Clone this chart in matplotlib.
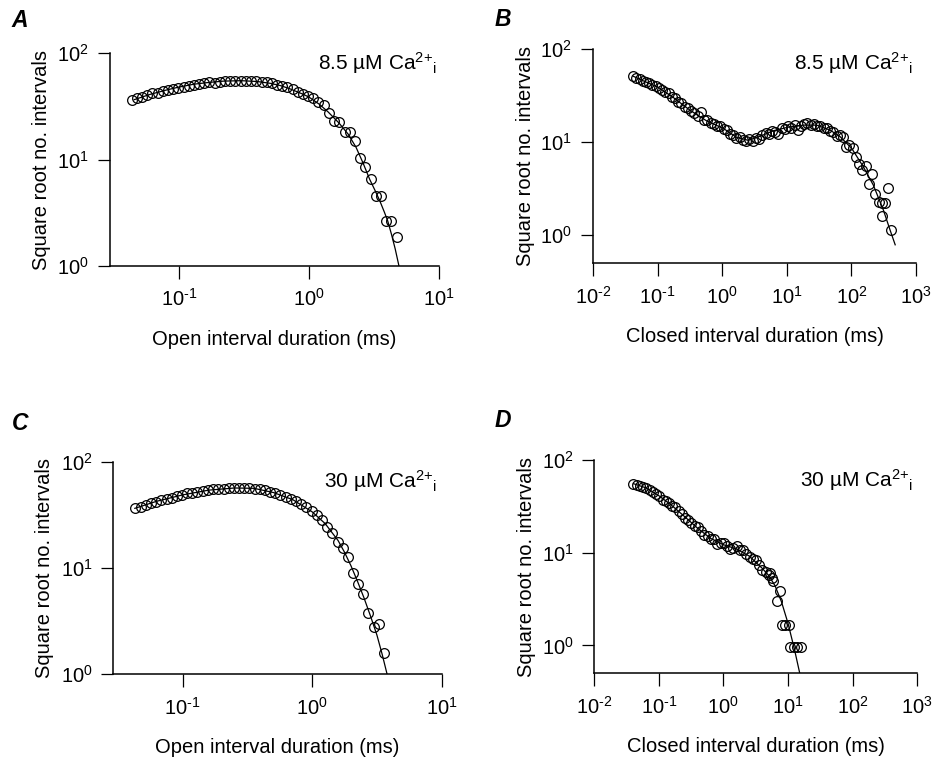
import matplotlib
matplotlib.use("Agg")
import matplotlib.pyplot as plt
from matplotlib.ticker import NullLocator, FuncFormatter
import numpy as np

plt.rcParams["font.family"] = ["Liberation Sans", "DejaVu Sans"]
plt.rcParams["mathtext.fontset"] = "custom"
plt.rcParams["mathtext.rm"] = "Liberation Sans"
plt.rcParams["mathtext.it"] = "Liberation Sans:italic"
plt.rcParams["mathtext.bf"] = "Liberation Sans:bold"
plt.rcParams["mathtext.default"] = "regular"
plt.rcParams["axes.unicode_minus"] = False

# A: open intervals, 8.5 uM Ca (duration ms, sqrt count)
open_85_t = [0.043, 0.0471, 0.0516, 0.0566, 0.0621, 0.0681, 0.0746, 0.0818, 0.0897, 0.0984,
             0.108, 0.118, 0.130, 0.142, 0.156, 0.171, 0.188, 0.206, 0.225, 0.247,
             0.271, 0.297, 0.326, 0.357, 0.392, 0.430, 0.471, 0.516, 0.566, 0.621,
             0.681, 0.746, 0.819, 0.897, 0.984, 1.08, 1.18, 1.30, 1.42, 1.56,
             1.71, 1.88, 2.06, 2.25, 2.47, 2.71, 2.97, 3.26, 3.57, 3.92,
             4.30, 4.71]
open_85_y = [36.2, 37.6, 38.9, 40.4, 41.8, 42.4, 43.7, 45.0, 46.3, 46.9,
             48.3, 49.0, 49.7, 50.8, 51.9, 53.1, 52.6, 53.8, 54.6, 54.2,
             54.6, 54.6, 54.2, 55.0, 54.6, 53.8, 53.1, 51.9, 50.4, 49.0,
             47.6, 45.6, 43.4, 40.9, 39.5, 37.6, 35.0, 32.5, 27.5, 23.1,
             22.6, 18.2, 18.2, 15.0, 10.3, 8.45, 6.52, 4.54, 4.54, 2.65,
             2.65, 1.87]
open_85_fit_t = [0.045, 0.06, 0.08, 0.1, 0.13, 0.17, 0.22, 0.3, 0.4, 0.5,
                 0.6, 0.7, 0.8, 0.9, 1.0, 1.2, 1.4, 1.7, 2.0, 2.3,
                 2.6, 2.93, 3.2, 3.5, 3.8, 4.03, 4.3, 4.6, 4.92]
open_85_fit_y = [36.5, 41, 45, 48, 51, 53, 54.5, 55, 54, 52,
                 49.5, 46.5, 43.5, 41, 38.5, 33, 28, 22, 17.3, 13,
                 9.3, 6.5, 5.2, 4.1, 3.2, 2.65, 2.0, 1.45, 1.0]

# B: closed intervals, 8.5 uM Ca
closed_85_t = [0.0417, 0.0468, 0.0525, 0.0589, 0.0661, 0.0741, 0.0832, 0.0933, 0.105, 0.117,
               0.132, 0.148, 0.166, 0.186, 0.209, 0.234, 0.263, 0.295, 0.331, 0.372,
               0.417, 0.468, 0.525, 0.589, 0.661, 0.741, 0.832, 0.933, 1.05, 1.17,
               1.32, 1.48, 1.66, 1.86, 2.09, 2.34, 2.63, 2.95, 3.31, 3.72,
               4.17, 4.68, 5.25, 5.89, 6.61, 7.41, 8.32, 9.33, 10.5, 11.7,
               13.2, 14.8, 16.6, 18.6, 20.9, 23.4, 26.3, 29.5, 33.1, 37.2,
               41.7, 46.8, 52.5, 58.9, 66.1, 74.1, 83.2, 93.3, 105, 117,
               132, 148, 166, 186, 209, 234, 263, 295, 300, 331,
               372, 417]
closed_85_y = [51.5, 49.5, 48.0, 46.0, 44.8, 43.0, 41.2, 40.5, 38.0, 36.8,
               34.5, 33.5, 30.5, 29.8, 27.0, 26.5, 24.0, 23.5, 21.5, 20.5,
               19.4, 21.0, 17.5, 17.2, 16.0, 15.9, 15.0, 14.8, 13.8, 13.5,
               12.4, 12.0, 11.0, 11.4, 10.6, 10.4, 10.8, 10.3, 11.0, 10.9,
               12.0, 12.6, 12.3, 13.3, 13.0, 12.4, 14.2, 14.0, 14.8, 14.3,
               15.2, 13.4, 15.0, 15.8, 16.0, 15.4, 15.7, 15.0, 15.1, 14.2,
               14.3, 13.2, 13.0, 11.8, 12.0, 11.5, 8.9, 9.4, 8.6, 7.0,
               5.9, 5.0, 5.6, 3.6, 4.6, 2.8, 2.3, 1.6, 2.2, 2.25,
               3.2, 1.13]
closed_85_fit_t = [0.042, 0.0596, 0.102, 0.174, 0.315, 0.573, 1.04, 1.67, 2.53, 3.85,
                   6.18, 10.3, 18.0, 29.0, 46.8, 66.8, 101, 153, 219, 313,
                   398, 476]
closed_85_fit_y = [51.3, 45.9, 39.0, 30.4, 22.2, 17.0, 14.1, 11.3, 10.5, 11.6,
                   13.3, 14.5, 15.3, 15.3, 13.5, 11.5, 8.6, 5.45, 3.45, 1.86,
                   1.13, 0.79]

# C: open intervals, 30 uM Ca
open_30_t = [0.0432, 0.0473, 0.0519, 0.0569, 0.0624, 0.0684, 0.0750, 0.0822, 0.0902, 0.0989,
             0.108, 0.119, 0.130, 0.143, 0.157, 0.172, 0.188, 0.207, 0.226, 0.248,
             0.272, 0.299, 0.327, 0.359, 0.394, 0.432, 0.473, 0.519, 0.569, 0.624,
             0.684, 0.750, 0.822, 0.902, 0.989, 1.08, 1.19, 1.30, 1.43, 1.57,
             1.72, 1.88, 2.07, 2.26, 2.48, 2.72, 2.99, 3.27, 3.59]
open_30_y = [36.7, 38.0, 39.4, 41.0, 42.4, 43.8, 45.0, 46.2, 47.6, 49.0,
             50.5, 51.5, 52.5, 53.6, 54.3, 55.1, 55.6, 56.1, 56.5, 56.8,
             57.1, 57.0, 56.6, 56.2, 55.1, 54.0, 52.7, 51.0, 49.2, 47.1,
             44.9, 42.7, 40.0, 37.5, 34.4, 31.5, 28.3, 24.6, 21.5, 17.6,
             15.4, 12.6, 9.0, 7.1, 5.7, 3.8, 2.8, 3.0, 1.6]
open_30_fit_t = [0.0427, 0.0631, 0.1, 0.1585, 0.251, 0.355, 0.501, 0.708, 1.0, 1.259,
                 1.585, 1.778, 1.995, 2.239, 2.512, 2.818, 3.162, 3.467, 3.79]
open_30_fit_y = [36.6, 42.7, 49.0, 54.3, 56.9, 56.5, 51.6, 44.2, 33.9, 26.3,
                 18.2, 14.1, 10.5, 7.5, 5.25, 3.55, 2.34, 1.55, 1.0]

# D: closed intervals, 30 uM Ca
closed_30_t = [0.0403, 0.0452, 0.0507, 0.0569, 0.0638, 0.0716, 0.0804, 0.0902, 0.101, 0.114,
               0.127, 0.143, 0.160, 0.180, 0.202, 0.226, 0.254, 0.285, 0.320, 0.359,
               0.403, 0.452, 0.507, 0.569, 0.638, 0.716, 0.804, 0.902, 1.01, 1.14,
               1.27, 1.43, 1.60, 1.80, 2.02, 2.26, 2.54, 2.85, 3.20, 3.59,
               4.03, 4.52, 5.07, 5.30, 5.62, 5.96, 6.87, 7.57, 8.04, 9.06,
               10.2, 10.8, 12.2, 13.7, 16.0]
closed_30_y = [55.6, 54.2, 52.7, 51.4, 49.9, 47.5, 45.2, 43.1, 40.9, 37.0,
               36.3, 34.2, 32.1, 31.0, 28.0, 26.1, 23.5, 22.7, 21.1, 19.6,
               19.0, 17.2, 15.5, 15.1, 14.2, 14.0, 12.5, 12.6, 12.8, 11.9,
               11.0, 11.3, 11.8, 10.6, 10.6, 9.7, 9.0, 8.6, 8.3, 7.3,
               6.5, 6.2, 5.7, 6.05, 5.3, 4.9, 3.05, 3.84, 1.68, 1.68,
               1.68, 0.97, 0.97, 0.97, 0.97]
closed_30_fit_t = [0.0403, 0.0631, 0.1, 0.158, 0.251, 0.398, 0.631, 1.0, 1.585, 2.512,
                   3.981, 5.012, 6.310, 7.943, 10.0, 12.59, 15.14]
closed_30_fit_y = [55.6, 50.1, 41.2, 32.4, 24.5, 18.4, 14.3, 12.2, 11.0, 9.2,
                   6.8, 5.7, 4.4, 2.95, 1.74, 0.91, 0.51]

fig = plt.figure(figsize=(9.33, 7.62), dpi=100)


def decade_label(v, pos):
    # 10^n with a short hyphen for negative exponents
    n = int(round(np.log10(v)))
    exp = str(n).replace("-", "\u2010")
    return "10$^{" + exp + "}$"


def panel(rect, t, y, fit_t, fit_y, xlim, ylim, xticks, xlabel, conc, conc_xy):
    ax = fig.add_axes(rect)
    ax.plot(fit_t, fit_y, color="black", lw=0.9, zorder=2)
    ax.plot(t, y, "o", ms=7, mfc="none", mec="black", mew=0.9, zorder=3, clip_on=False)
    ax.set_xscale("log")
    ax.set_yscale("log")
    ax.set_xlim(xlim)
    ax.set_ylim(ylim)
    ax.set_xticks(xticks)
    ax.set_yticks([1, 10, 100])
    ax.xaxis.set_minor_locator(NullLocator())
    ax.yaxis.set_minor_locator(NullLocator())
    ax.xaxis.set_major_formatter(FuncFormatter(decade_label))
    ax.yaxis.set_major_formatter(FuncFormatter(decade_label))
    for side in ("top", "right"):
        ax.spines[side].set_visible(False)
    for side in ("left", "bottom"):
        ax.spines[side].set_linewidth(1.1)
    ax.tick_params(direction="out", length=9, width=0.9, labelsize=14.5)
    ax.tick_params(axis="x", pad=7)
    ax.tick_params(axis="y", pad=6)
    ax.set_ylabel("Square root no. intervals", fontsize=14.5)
    ax.set_xlabel(xlabel, fontsize=14.5)
    ax.yaxis.set_label_coords(-0.18, 0.5)
    ax.xaxis.set_label_coords(0.5, -0.30)
    ax.text(conc_xy[0], conc_xy[1], conc + " \u00b5M Ca$^{2{+}}$$_{\\mathrm{i}}$",
            transform=ax.transAxes, ha="right", va="baseline", fontsize=15)
    return ax


panel([0.1179, 0.6509, 0.3526, 0.2795], open_85_t, open_85_y, open_85_fit_t, open_85_fit_y,
      (0.0293, 10), (1, 100), [0.1, 1, 10], "Open interval duration (ms)", "8.5", (0.994, 0.92))
panel([0.6356, 0.6545, 0.3462, 0.2808], closed_85_t, closed_85_y, closed_85_fit_t, closed_85_fit_y,
      (0.01, 1000), (0.5, 100), [0.01, 0.1, 1, 10, 100, 1000], "Closed interval duration (ms)",
      "8.5", (0.991, 0.903))
panel([0.1214, 0.1151, 0.3520, 0.2786], open_30_t, open_30_y, open_30_fit_t, open_30_fit_y,
      (0.0291, 10), (1, 100), [0.1, 1, 10], "Open interval duration (ms)", "30", (0.986, 0.878))
panel([0.6370, 0.1164, 0.3459, 0.2799], closed_30_t, closed_30_y, closed_30_fit_t, closed_30_fit_y,
      (0.01, 1000), (0.5, 100), [0.01, 0.1, 1, 10, 100, 1000], "Closed interval duration (ms)",
      "30", (0.988, 0.873))

# panel letters
for letter, x, y in [("A", 0.012, 0.9646), ("B", 0.530, 0.9659), ("C", 0.013, 0.4357), ("D", 0.530, 0.4396)]:
    fig.text(x, y, letter, fontsize=16.5, fontweight="bold", fontstyle="italic", va="baseline")

fig.savefig("out.png", dpi=100)
